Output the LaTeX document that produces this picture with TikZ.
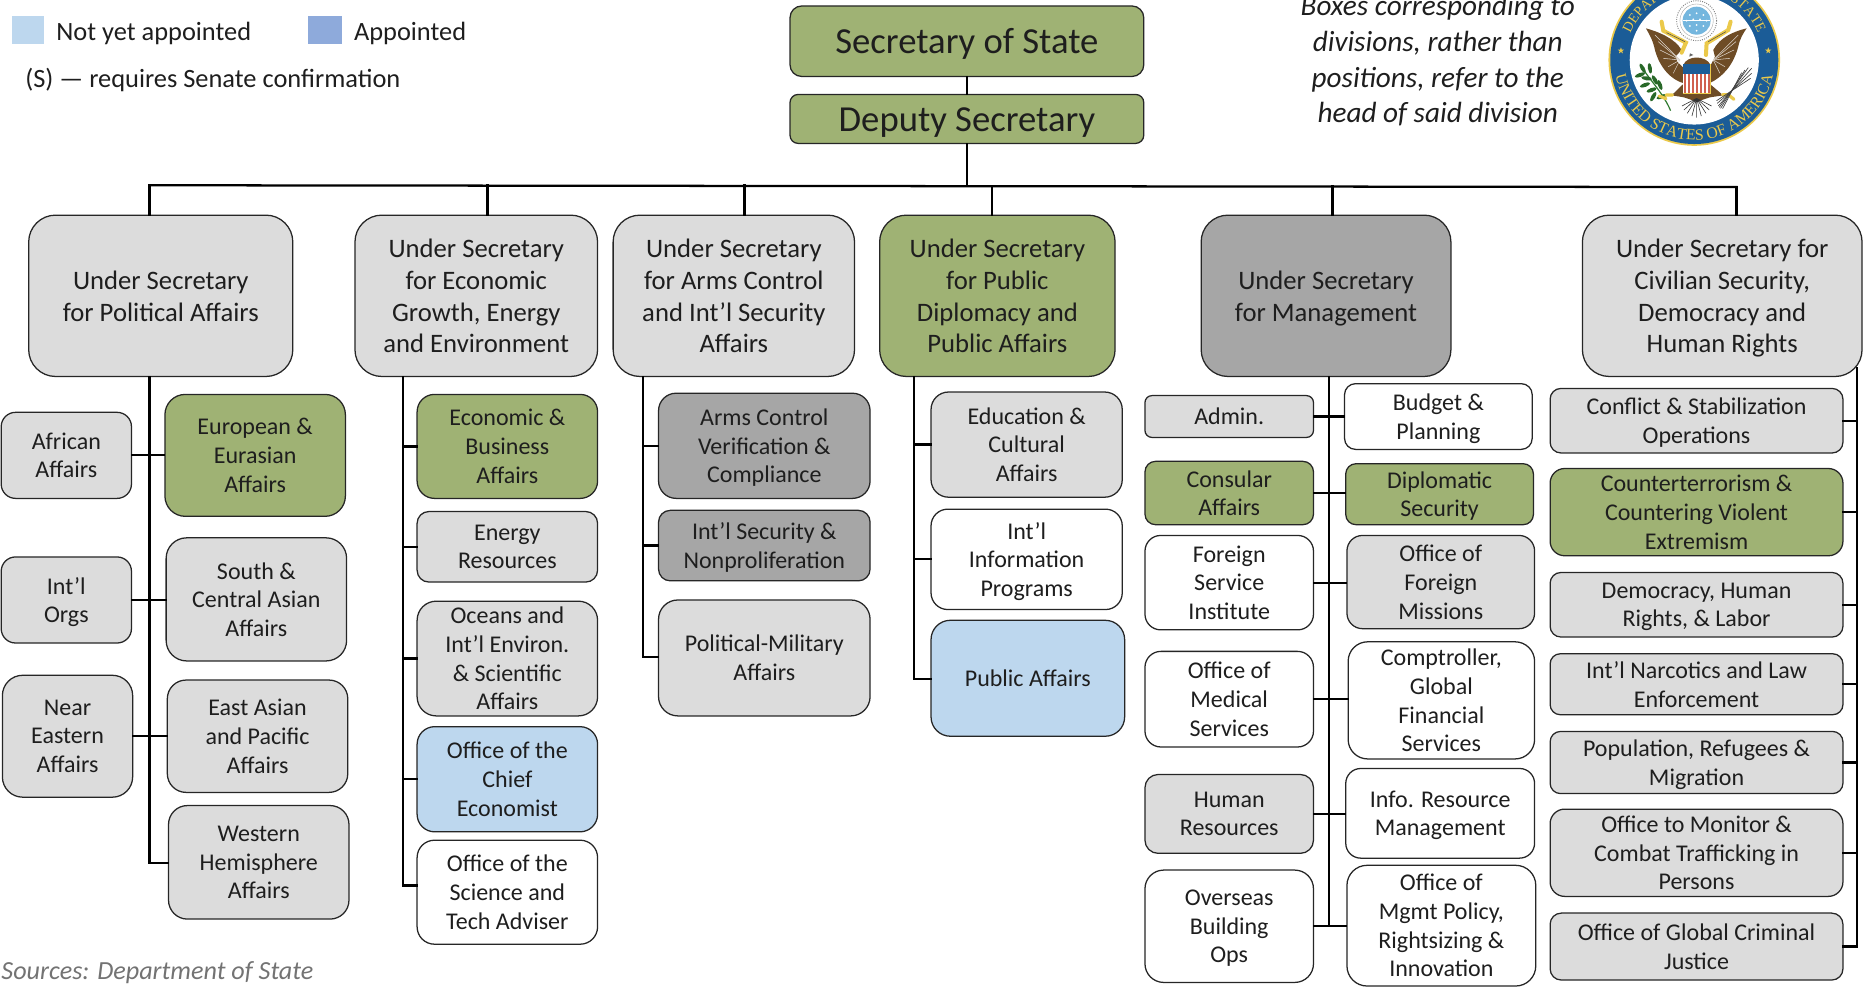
\documentclass[tikz,border=0pt]{standalone}
\usepackage{fontspec}
\setmainfont{Carlito}
\newfontfamily\sealfont{Liberation Serif}
\usetikzlibrary{decorations.text}
\definecolor{cgray}{HTML}{DCDCDC}
\definecolor{cdark}{HTML}{A6A6A6}
\definecolor{cgreen}{HTML}{9FB274}
\definecolor{cblue}{HTML}{BDD7EE}
\definecolor{capp}{HTML}{8EAADB}
\definecolor{ctext}{HTML}{1E1E1E}
\definecolor{sealblue}{HTML}{1B5C97}
\definecolor{sealyellow}{HTML}{EBC94A}
\definecolor{sealbrown}{HTML}{6E4C26}
\definecolor{sealsky}{HTML}{74B6DE}
\definecolor{sealred}{HTML}{D0604F}
\definecolor{sealgreen}{HTML}{2F7A2F}
\tikzset{
  orgnode/.style={draw=black!85,line width=0.95pt,align=center,inner sep=0pt,text=ctext,text depth=0pt},
  gr/.style={fill=cgray}, gn/.style={fill=cgreen}, dk/.style={fill=cdark},
  bl/.style={fill=cblue}, wh/.style={fill=white},
  big/.style={font=\fontsize{27.5}{32}\selectfont},
  usec/.style={font=\fontsize{20}{23.9}\selectfont},
  child/.style={font=\fontsize{18}{21.5}\selectfont},
  conn/.style={line width=1.7pt,black,line cap=rect},
  lbl/.style={inner sep=0pt,text=ctext,font=\fontsize{19.8}{24}\selectfont}
}
\newcommand{\orgbox}[7]{%
  \pgfmathsetmacro\orgw{(#4-#2)*0.8964}%
  \pgfmathsetmacro\orgh{(#5-#3)*0.8964}%
  \pgfmathsetmacro\orgr{min(\orgw,\orgh)/6}%
  \node[orgnode,#6,minimum width=\orgw pt,minimum height=\orgh pt,rounded corners=\orgr pt] (#1) at ({(#2+#4)/2},{(#3+#5)/2}) {#7};}
\newcommand{\sealstar}[2]{\fill[sealyellow] plot[samples at={0,1,...,9},variable=\k] ({#1+(mod(\k,2)==0?10:4)*cos(90+36*\k)},{#2-(mod(\k,2)==0?10:4)*sin(90+36*\k)}) -- cycle;}
\begin{document}
\begin{tikzpicture}[x=0.8964pt,y=-0.8964pt]
\useasboundingbox (0,0) rectangle (1568,825.8);
% legend
\fill[cblue] (10,13) rectangle (37,37);
\fill[capp] (258,13) rectangle (286,37);
\node[lbl,anchor=west] (leg1) at (47,28) {Not yet appointed};
\node[lbl,anchor=west] (leg2) at (296,28) {Appointed};
\node[lbl,anchor=west] (leg3) at (21,67) {(S) — requires Senate confirmation};
\node[lbl,anchor=center,align=center,font=\fontsize{21.9}{26.7}\itshape\selectfont] (note) at (1203,51) {Boxes corresponding to\\divisions, rather than\\positions, refer to the\\head of said division};
\node[inner sep=0pt,anchor=west,text=black!55,font=\fontsize{19.6}{23}\itshape\selectfont] (src) at (1,813.5) {Sources: Department of State};
% seal: discs and lettering
\begin{scope}[shift={(1417.6,50.2)},x=0.8964pt,y=0.8964pt]
\fill[sealyellow] (0,0) circle[radius=71.8];
\fill[sealblue] (0,0) circle[radius=70.3];
\fill[white] (0,0) circle[radius=54];
\path[decorate,decoration={text along path,text align=center,text={|\sealfont\fontsize{11.8}{11.8}\selectfont\color{sealyellow}|UNITED STATES OF AMERICA}}] (190:67) arc[start angle=190,end angle=350,radius=67];
\path[decorate,decoration={text along path,text align=center,text={|\sealfont\fontsize{10.5}{10.5}\selectfont\color{sealyellow}|DEPARTMENT OF STATE}}] (170:58) arc[start angle=170,end angle=10,radius=58];
\end{scope}
% seal: emblem
\begin{scope}[shift={(1417.6,50.2)},x=0.25pt,y=-0.25pt,shift={(-283,-180)}]
\sealstar{63}{152}
\sealstar{505}{152}
% crest
\draw[black!50,fill=white,densely dotted,line width=0.7pt] (290,62) circle[radius=60];
\draw[black!35,line width=0.3pt] (290,62) circle[radius=50];
\fill[sealsky] (290,62) circle[radius=42];
\foreach \px/\py in {270/45,290/40,310/45,260/62,280/58,300/58,320/62,270/78,290/75,310/78,290/92}{\fill[white] (\px,\py) circle[radius=3];}
\draw[white,line width=0.3pt] (250,62) -- (330,62);
% wings
\fill[sealbrown] (138,85) .. controls (175,95) and (225,115) .. (245,150) -- (228,168) -- (232,185) -- (252,205) -- (252,250) .. controls (215,240) and (180,205) .. (165,150) .. controls (160,125) and (150,105) .. (138,85) -- cycle;
\fill[sealbrown] (440,85) .. controls (400,95) and (360,112) .. (340,150) -- (345,170) -- (335,190) -- (328,205) -- (328,250) .. controls (370,230) and (400,195) .. (415,140) .. controls (420,115) and (430,100) .. (440,85) -- cycle;
\foreach \ex/\ey in {165/105,175/125,180/150,190/175,205/200,220/220}{\draw[white!60!sealbrown!60!white,line width=0.4pt] (240,180) -- (\ex,\ey);}
\foreach \ex/\ey in {415/105,408/125,402/150,390/175,375/200,360/220}{\draw[white!60!sealbrown!60!white,line width=0.4pt] (340,180) -- (\ex,\ey);}
% body and legs
\fill[sealbrown] (250,195) .. controls (262,165) and (318,165) .. (332,195) -- cycle;
\fill[sealbrown] (250,252) -- (215,286) -- (252,292) -- (290,305) -- (330,292) -- (370,286) -- (330,252) -- cycle;
% scrolls
\draw[sealyellow,line width=3pt,line cap=round] (185,65) -- (190,92) -- (258,128) -- (245,158);
\draw[sealyellow,line width=3pt,line cap=round] (392,65) -- (385,90) -- (320,130) -- (318,165);
\draw[black!70,line width=0.4pt] (200,98) -- (255,125) (378,95) -- (325,125);
\fill[black!60] (270,160) -- (280,165) -- (268,170) -- cycle;
% shield
\fill[white] (250,222) rectangle (330,280);
\foreach \i in {252,264,276,288,300,312,324}{\fill[sealred] (\i,222) rectangle (\i+6,280);}
\fill[sealblue] (250,192) rectangle (330,222);
\draw[sealyellow,line width=0.6pt] (331,192) -- (331,281) -- (250,281);
% tail
\draw[black!80,line width=0.45pt] (290,295) -- (246,318) (290,295) -- (252,330) (290,295) -- (262,340) (290,295) -- (276,348) (290,295) -- (290,353) (290,295) -- (304,348) (290,295) -- (318,340) (290,295) -- (328,330) (290,295) -- (335,318);
% olive branch
\draw[sealgreen,line width=0.9pt] (128,205) .. controls (150,240) and (190,280) .. (212,332);
\foreach \px/\py/\ang in {128/205/-60,120/225/20,150/205/-80,140/235/-10,165/240/-60,135/255/20,180/255/-70,155/270/20,160/290/60,185/290/20}{\fill[sealgreen!85!black,rotate around={\ang:(\px,\py)}] (\px,\py) ellipse[x radius=16,y radius=6];}
% talons
\draw[sealyellow,line width=2.4pt,line cap=round] (178,288) -- (198,296) (198,285) -- (218,285);
\draw[sealyellow,line width=2.4pt,line cap=round] (385,284) -- (402,298) (368,284) -- (385,284);
% arrows
\foreach \sx/\sy/\ex/\ey in {455/205/355/318,445/203/358/322,435/210/362/325,425/218/368/326,455/220/352/310,452/235/350/302}{\draw[black!75,line width=0.5pt] (\sx,\sy) -- (\ex,\ey);}
\end{scope}
% top
\orgbox{sec}{661}{5}{957}{64}{gn,big}{\raisebox{-9.45pt}[0pt][0pt]{Secretary of State}}
\orgbox{dep}{661}{79}{957}{120}{gn,big}{\raisebox{-9.45pt}[0pt][0pt]{Deputy Secretary}}
% under secretaries
\orgbox{u1}{24}{180}{245}{315}{gr,usec}{Under Secretary\\for Political Affairs}
\orgbox{u2}{297}{180}{500}{315}{gr,usec}{Under Secretary\\for Economic\\Growth, Energy\\and Environment}
\orgbox{u3}{513}{180}{715}{315}{gr,usec}{Under Secretary\\for Arms Control\\and Int’l Security\\Affairs}
\orgbox{u4}{736}{180}{933}{315}{gn,usec}{Under Secretary\\for Public\\Diplomacy and\\Public Affairs}
\orgbox{u5}{1005}{180}{1214}{315}{dk,usec}{Under Secretary\\for Management}
\orgbox{u6}{1324}{180}{1558}{315}{gr,usec}{Under Secretary for\\Civilian Security,\\Democracy and\\Human Rights}
% column 1
\orgbox{afr}{1}{345}{110}{417}{gr,child}{African\\Affairs}
\orgbox{org}{1}{466}{110}{538}{gr,child}{Int’l\\Orgs}
\orgbox{nea}{2}{565}{111}{667}{gr,child}{Near\\Eastern\\Affairs}
\orgbox{eur}{138}{330}{289}{432}{gn,child}{European \&\\Eurasian\\Affairs}
\orgbox{sca}{139}{450}{290}{553}{gr,child}{South \&\\Central Asian\\Affairs}
\orgbox{eap}{140}{569}{291}{663}{gr,child}{East Asian\\and Pacific\\Affairs}
\orgbox{wha}{141}{674}{292}{769}{gr,child}{Western\\Hemisphere\\Affairs}
% column 2
\orgbox{eco}{349}{330}{500}{417}{gn,child}{Economic \&\\Business\\Affairs}
\orgbox{ene}{349}{428}{500}{487}{gr,child}{Energy\\Resources}
\orgbox{oce}{349}{503}{500}{599}{gr,child}{Oceans and\\Int’l Environ.\\\& Scientific\\Affairs}
\orgbox{che}{349}{608}{500}{696}{bl,child}{Office of the\\Chief\\Economist}
\orgbox{sci}{349}{703}{500}{790}{wh,child}{Office of the\\Science and\\Tech Adviser}
% column 3
\orgbox{arm}{551}{329}{728}{417}{dk,child}{Arms Control\\Verification \&\\Compliance}
\orgbox{isn}{551}{427}{728}{486}{dk,child}{Int’l Security \&\\Nonproliferation}
\orgbox{pol}{551}{502}{728}{599}{gr,child}{Political-Military\\Affairs}
% column 4
\orgbox{edu}{779}{328}{939}{416}{gr,child}{Education \&\\Cultural\\Affairs}
\orgbox{inf}{779}{426}{939}{510}{wh,child}{Int’l\\Information\\Programs}
\orgbox{pub}{779}{519}{941}{616}{bl,child}{Public Affairs}
% column 5
\orgbox{adm}{958}{331}{1099}{366}{gr,child}{Admin.}
\orgbox{con}{958}{386}{1099}{439}{gn,child}{Consular\\Affairs}
\orgbox{fsi}{958}{448}{1099}{527}{wh,child}{Foreign\\Service\\Institute}
\orgbox{med}{958}{545}{1099}{625}{wh,child}{Office of\\Medical\\Services}
\orgbox{hum}{958}{648}{1099}{714}{gr,child}{Human\\Resources}
\orgbox{obo}{958}{728}{1099}{822}{wh,child}{Overseas\\Building\\Ops}
\orgbox{bud}{1125}{321}{1282}{376}{wh,child}{Budget \&\\Planning}
\orgbox{dip}{1126}{388}{1283}{439}{gn,child}{Diplomatic\\Security}
\orgbox{ofm}{1127}{448}{1284}{526}{gr,child}{Office of\\Foreign\\Missions}
\orgbox{cgf}{1128}{537}{1284}{635}{wh,child}{Comptroller,\\Global\\Financial\\Services}
\orgbox{irm}{1126}{643}{1284}{718}{wh,child}{Info. Resource\\Management}
\orgbox{mgt}{1127}{724}{1285}{825}{wh,child}{Office of\\Mgmt Policy,\\Rightsizing \&\\Innovation}
% column 6
\orgbox{cso}{1297}{325}{1542}{379}{gr,child}{Conflict \& Stabilization\\Operations}
\orgbox{cve}{1297}{392}{1542}{465}{gn,child}{Counterterrorism \&\\Countering Violent\\Extremism}
\orgbox{drl}{1297}{479}{1542}{533}{gr,child}{Democracy, Human\\Rights, \& Labor}
\orgbox{inl}{1297}{547}{1542}{598}{gr,child}{Int’l Narcotics and Law\\Enforcement}
\orgbox{prm}{1297}{612}{1542}{664}{gr,child}{Population, Refugees \&\\Migration}
\orgbox{tip}{1297}{677}{1542}{750}{gr,child}{Office to Monitor \&\\Combat Trafficking in\\Persons}
\orgbox{gcj}{1297}{764}{1542}{820}{gr,child}{Office of Global Criminal\\Justice}
% connectors
\coordinate (busL) at (125,155);
\coordinate (busR) at (1453,156.5);
\coordinate (busM) at (809,155.5);
\coordinate (d2) at (408,155);
\coordinate (d3) at (623,155);
\coordinate (d4) at (830,155.5);
\coordinate (d5) at (1115,156);
\coordinate (t1) at (125,722);
\coordinate (t2) at (337,741);
\coordinate (t3) at (538,550);
\coordinate (t4) at (765,568);
\coordinate (t5) at (1112,775);
\coordinate (t6top) at (1554,308);
\coordinate (t6) at (1554,792);
\draw[conn] (sec.south -| busM) -- (dep.north -| busM);
\draw[conn] (dep.south -| busM) -- (busM);
\draw[conn] (busL) -- (busR);
\draw[conn] (busL) -- (u1.north -| busL);
\foreach \d/\u in {d2/u2,d3/u3,d4/u4,d5/u5,busR/u6}{\draw[conn] (\d) -- (\u.north -| \d);}
% trunks
\draw[conn] (u1.south -| t1) -- (t1) -- (wha.west |- t1);
\draw[conn] (u2.south -| t2) -- (t2) -- (sci.west |- t2);
\draw[conn] (u3.south -| t3) -- (t3) -- (pol.west |- t3);
\draw[conn] (u4.south -| t4) -- (t4) -- (pub.west |- t4);
\draw[conn] (u5.south -| t5) -- (t5);
\draw[conn] (t6top) -- (t6) -- (gcj.east |- t6);
% branches
\foreach \a/\b in {afr/eur,org/sca,nea/eap,adm/bud,con/dip,fsi/ofm,med/cgf,hum/irm,obo/mgt}{\draw[conn] (\a.east) -- (\a.east -| \b.west);}
\foreach \n/\t in {eco/t2,ene/t2,oce/t2,che/t2,arm/t3,isn/t3,edu/t4,inf/t4}{\draw[conn] (\n.west) -- (\n.west -| \t);}
\foreach \n in {cso,cve,drl,inl,prm,tip}{\draw[conn] (\n.east) -- (\n.east -| t6);}
\end{tikzpicture}
\end{document}
